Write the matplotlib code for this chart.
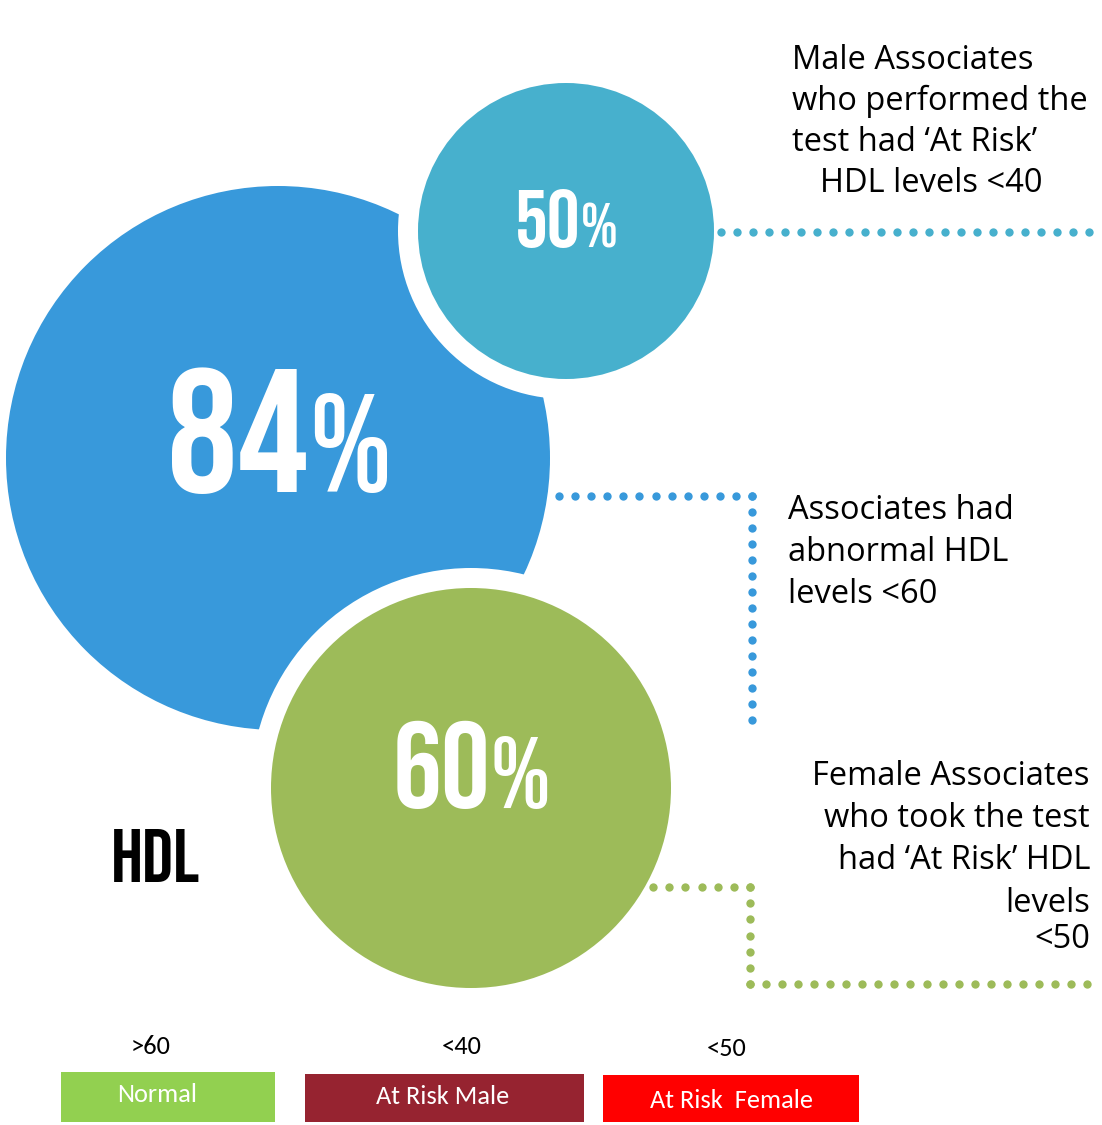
import matplotlib
matplotlib.use("Agg")
import matplotlib.pyplot as plt
import matplotlib.patches as mpatches
import numpy as np

# ---- data ----
percent_values = [84, 50, 60]
percent_names = ["All", "Male", "Female"]
title_text = "HDL"
desc_all = ["Associates had", "abnormal HDL", "levels <60"]
desc_male = ["Male Associates", "who performed the", "test had \u2018At Risk\u2019", "HDL levels <40"]
desc_female = ["Female Associates", "who took the test", "had \u2018At Risk\u2019 HDL", "levels", "<50"]
legend_labels = ["Normal", "At Risk Male", "At Risk  Female"]
legend_thresholds = [">60", "<40", "<50"]

# ---- style ----
W, H = 1102, 1125
fig = plt.figure(figsize=(W / 100, H / 100), dpi=100)
ax = fig.add_axes([0, 0, 1, 1])
ax.set_xlim(0, W)
ax.set_ylim(H, 0)
ax.set_aspect("equal")
ax.axis("off")

BLUE = "#3899DB"
TEAL = "#47B0CD"
GREEN = "#9DBB59"
LEG_COLS = ["#92D050", "#962330", "#FF0000"]
COND = ["Bebas Neue", "DejaVu Sans"]
BODY = ["Open Sans", "DejaVu Sans"]
LEGF = ["Carlito", "DejaVu Sans"]

# circles: (center x, center y, radius, color)
circles = [(278, 458, 272, BLUE), (566, 231, 148, TEAL), (471, 788, 200, GREEN)]
ring = 20

cx, cy, r, c = circles[0]
ax.add_patch(mpatches.Circle((cx, cy), r, color=c, lw=0, zorder=1))
for cx, cy, r, c in circles[1:]:
    ax.add_patch(mpatches.Circle((cx, cy), r + ring, color="white", lw=0, zorder=2))
    ax.add_patch(mpatches.Circle((cx, cy), r, color=c, lw=0, zorder=3))

# percentage labels: (x split, baseline, size number, size pct)
pct_layout = [
    (308, 492, 127, 100),
    (580, 247, 59, 45),
    (490, 808, 88, 73),
]
for v, (xs, yb, s1, s2) in zip(percent_values, pct_layout):
    ax.text(xs, yb, f"{v}", color="white", fontsize=s1,
            family=COND, ha="right", va="baseline", zorder=5)
    ax.text(xs + 1, yb, "%", color="white", fontsize=s2,
            family=COND, ha="left", va="baseline", zorder=5)

ax.text(111, 882, title_text, color="black", fontsize=55,
        family=COND, ha="left", va="baseline", zorder=5)

# dotted connectors
def dots(x0, y0, x1, y1, color, step=16):
    n = int(round(max(abs(x1 - x0), abs(y1 - y0)) / step)) + 1
    xs = np.linspace(x0, x1, n)
    ys = np.linspace(y0, y1, n)
    ax.plot(xs, ys, ls="", marker="o", ms=6, color=color, mec="none", zorder=4)

dots(559, 496, 752, 496, BLUE)
dots(752, 496, 752, 720, BLUE)
dots(721, 232, 1089, 232, TEAL)
dots(653, 887, 750, 887, GREEN)
dots(750, 887, 750, 984, GREEN)
dots(750, 984, 1087, 984, GREEN)

# descriptions (one text per line)
fs = 23.5
for line, yb in zip(desc_all, [519, 561, 603]):
    ax.text(788, yb, line, fontsize=fs, family=BODY, ha="left", va="baseline", color="black")
for line, xb, yb in zip(desc_male, [792, 792, 792, 820], [69, 110, 151, 192]):
    ax.text(xb, yb, line, fontsize=fs, family=BODY, ha="left", va="baseline", color="black")
for line, yb in zip(desc_female, [785, 827, 869, 912, 948]):
    ax.text(1090, yb, line, fontsize=fs, family=BODY, ha="right", va="baseline", color="black")

# legend
boxes = [(61, 1072, 214, 50), (305, 1074, 279, 48), (603, 1075, 256, 47)]
lab_pos = [(157, 1095), (443, 1096), (732, 1100)]
thr_pos = [(151, 1046), (462, 1046), (727, 1048)]
for lab, thr, col, (bx, by, bw, bh), (lx, ly), (tx, ty) in zip(
        legend_labels, legend_thresholds, LEG_COLS, boxes, lab_pos, thr_pos):
    ax.add_patch(mpatches.Rectangle((bx, by), bw, bh, color=col, lw=0))
    ax.text(lx, ly, lab, color="white", fontsize=19, family=LEGF,
            ha="center", va="center")
    ax.text(tx, ty, thr, color="black", fontsize=19, family=LEGF, ha="center", va="center")

fig.savefig("out.png", dpi=100)
